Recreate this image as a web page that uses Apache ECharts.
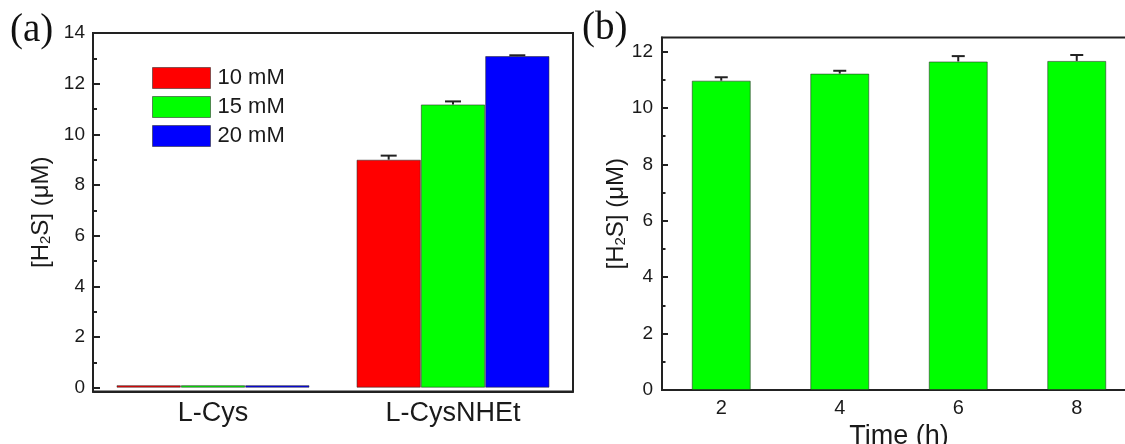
<!DOCTYPE html>
<html>
<head>
<meta charset="utf-8">
<script src="https://cdn.jsdelivr.net/npm/echarts@6/dist/echarts.min.js"></script>
<style>html,body{margin:0;padding:0;background:#fff}#c{width:1125px;height:444px}</style>
</head>
<body>
<div id="c"></div>
<script>
// ---- Data panel (a) ----
const catsA = ['L-Cys', 'L-CysNHEt'];
const namesA = ['10 mM', '15 mM', '20 mM'];
const val10 = [0.1, 9.0];
const err10 = [0, 0.16];
const val15 = [0.1, 11.18];
const err15 = [0, 0.12];
const val20 = [0.1, 13.09];
const err20 = [0, 0.03];
const yMajorA = [0, 2, 4, 6, 8, 10, 12, 14];
const yMinorA = [1, 3, 5, 7, 9, 11, 13];
// ---- Data panel (b) ----
const timeB = [2, 4, 6, 8];
const valB = [10.97, 11.22, 11.65, 11.67];
const errB = [0.12, 0.10, 0.19, 0.21];
const yMajorB = [0, 2, 4, 6, 8, 10, 12];
const yMinorB = [1, 3, 5, 7, 9, 11];

const colorsA = ['#ff0000', '#00ff00', '#0000ff'];
const FONT = "'Liberation Sans', Arial, sans-serif";
const TXT = '#1a1a1a';
const LINE = '#222';
const EDGE = 'rgba(40,40,40,0.55)';
const BAR_FRAC = 0.268;
const CAP_A = 16, CAP_B = 13;

const chart = echarts.init(document.getElementById('c'), null, {renderer: 'canvas'});

function errRenderA(idx) {
  return function (params, api) {
    const e = api.value(2);
    if (!e) return null;
    const c = api.value(0), v = api.value(1);
    const band = api.size([1, 0])[0];
    const off = (idx - 1) * band * BAR_FRAC;
    const p0 = api.coord([c, v]);
    const p1 = api.coord([c, v + e]);
    const cx = p0[0] + off;
    return {type: 'group', children: [
      {type: 'line', shape: {x1: cx, y1: p0[1], x2: cx, y2: p1[1]}, style: {stroke: LINE, lineWidth: 2}},
      {type: 'line', shape: {x1: cx - CAP_A / 2, y1: p1[1], x2: cx + CAP_A / 2, y2: p1[1]}, style: {stroke: LINE, lineWidth: 2}}
    ]};
  };
}
function errRenderB(params, api) {
  const x = api.value(0), v = api.value(1), e = api.value(2);
  const p0 = api.coord([x, v]);
  const p1 = api.coord([x, v + e]);
  return {type: 'group', children: [
    {type: 'line', shape: {x1: p0[0], y1: p0[1], x2: p0[0], y2: p1[1]}, style: {stroke: LINE, lineWidth: 2}},
    {type: 'line', shape: {x1: p0[0] - CAP_B / 2, y1: p1[1], x2: p0[0] + CAP_B / 2, y2: p1[1]}, style: {stroke: LINE, lineWidth: 2}}
  ]};
}

const valsA = [val10, val15, val20];
const errsA = [err10, err15, err20];

const yName = '{n|[H}{sub|2}{n|S] (μM)}';
const nameStyle = {
  fontFamily: FONT, fontSize: 24, color: TXT,
  rich: {
    n: {fontFamily: FONT, fontSize: 24, lineHeight: 24, verticalAlign: 'top', color: TXT},
    sub: {fontFamily: FONT, fontSize: 15, lineHeight: 15, verticalAlign: 'bottom', padding: [13, 0, 0, 0], color: TXT}
  }
};

const series = [];
valsA.forEach((vals, i) => {
  series.push({
    type: 'bar', name: namesA[i], xAxisIndex: 0, yAxisIndex: 0,
    data: vals, barWidth: (BAR_FRAC * 100) + '%', barGap: '0%',
    itemStyle: {color: colorsA[i], borderColor: EDGE, borderWidth: 1},
    z: 2
  });
});
valsA.forEach((vals, i) => {
  series.push({
    type: 'custom', name: 'err' + i, xAxisIndex: 0, yAxisIndex: 0,
    data: vals.map((v, j) => [j, v, errsA[i][j]]),
    renderItem: errRenderA(i), z: 5, silent: true
  });
});
series.push({
  type: 'bar', name: 'time', xAxisIndex: 1, yAxisIndex: 2,
  data: timeB.map((t, j) => [t, valB[j]]), barWidth: 59,
  itemStyle: {color: '#00ff00', borderColor: EDGE, borderWidth: 1}, z: 2
});
series.push({
  type: 'custom', name: 'errB', xAxisIndex: 1, yAxisIndex: 2,
  data: timeB.map((t, j) => [t, valB[j], errB[j]]),
  renderItem: errRenderB, z: 5, silent: true
});

const option = {
  animation: false,
  backgroundColor: '#fff',
  title: [
    {text: '(a)', left: 10, top: 11, padding: 0, textStyle: {fontFamily: "'Liberation Serif', 'Times New Roman', serif", fontSize: 39, fontWeight: 'normal', color: '#111'}},
    {text: '(b)', left: 582, top: 9, padding: 0, textStyle: {fontFamily: "'Liberation Serif', 'Times New Roman', serif", fontSize: 39, fontWeight: 'normal', color: '#111'}}
  ],
  legend: {
    data: namesA, orient: 'vertical', left: 152, top: 67, padding: 0,
    itemWidth: 58, itemHeight: 21, itemGap: 7, icon: 'rect',
    itemStyle: {borderColor: EDGE, borderWidth: 1},
    textStyle: {fontFamily: FONT, fontSize: 22, color: TXT, padding: [0, 0, 0, 2]},
    selectedMode: false
  },
  grid: [
    {left: 93, top: 33, width: 480, height: 358.5, show: true, borderColor: LINE, borderWidth: 2, outerBoundsMode: 'none', containLabel: false},
    {left: 662, top: 37.5, width: 474, height: 352.5, show: true, borderColor: LINE, borderWidth: 2, outerBoundsMode: 'none', containLabel: false}
  ],
  xAxis: [
    {type: 'category', gridIndex: 0, data: catsA, boundaryGap: true,
      axisLine: {onZero: false, lineStyle: {color: LINE, width: 2}},
      axisTick: {show: false},
      axisLabel: {fontFamily: FONT, fontSize: 27, color: TXT, margin: 9},
      splitLine: {show: false}},
    {type: 'value', gridIndex: 1, min: 1, max: 9,
      axisLine: {onZero: false, lineStyle: {color: LINE, width: 2}},
      axisTick: {show: false},
      axisLabel: {customValues: timeB, fontFamily: FONT, fontSize: 20, color: TXT, margin: 8},
      splitLine: {show: false},
      name: 'Time (h)', nameLocation: 'middle', nameGap: 29,
      nameTextStyle: {fontFamily: FONT, fontSize: 27, color: TXT}}
  ],
  yAxis: [
    {type: 'value', gridIndex: 0, min: -0.15, max: 14,
      axisLine: {show: true, lineStyle: {color: LINE, width: 2}},
      axisTick: {show: true, inside: true, length: 7, customValues: yMajorA, lineStyle: {color: LINE, width: 2}},
      axisLabel: {customValues: yMajorA, fontFamily: FONT, fontSize: 19, color: TXT, margin: 8},
      splitLine: {show: false},
      name: yName, nameLocation: 'middle', nameGap: 40, nameTextStyle: nameStyle},
    {type: 'value', gridIndex: 0, min: -0.15, max: 14, position: 'left', offset: 0,
      axisLine: {show: false},
      axisTick: {show: true, inside: true, length: 4, customValues: yMinorA, lineStyle: {color: LINE, width: 2}},
      axisLabel: {show: false}, splitLine: {show: false}},
    {type: 'value', gridIndex: 1, min: 0, max: 12.5,
      axisLine: {show: true, lineStyle: {color: LINE, width: 2}},
      axisTick: {show: true, inside: true, length: 6, customValues: yMajorB, lineStyle: {color: LINE, width: 2}},
      axisLabel: {customValues: yMajorB, fontFamily: FONT, fontSize: 19, color: TXT, margin: 9},
      splitLine: {show: false},
      name: yName, nameLocation: 'middle', nameGap: 34, nameTextStyle: nameStyle},
    {type: 'value', gridIndex: 1, min: 0, max: 12.5, position: 'left', offset: 0,
      axisLine: {show: false},
      axisTick: {show: true, inside: true, length: 3.5, customValues: yMinorB, lineStyle: {color: LINE, width: 2}},
      axisLabel: {show: false}, splitLine: {show: false}}
  ],
  series: series
};
chart.setOption(option);
</script>
</body>
</html>
